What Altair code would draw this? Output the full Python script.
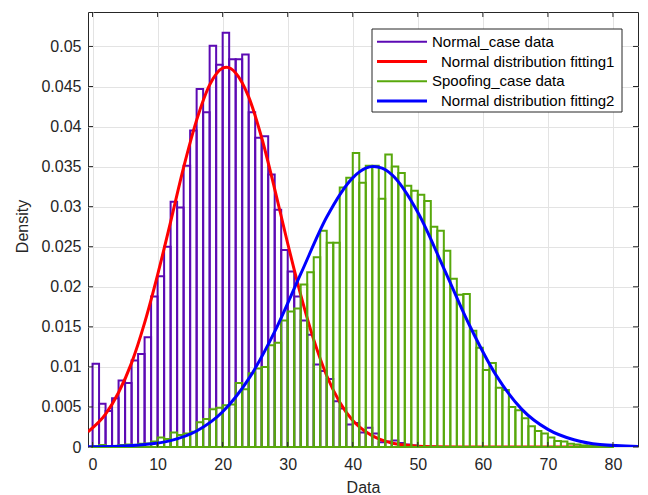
import altair as alt
import pandas as pd

# ---------------- data ----------------
bin_width = 1.0

# Normal_case histogram (pdf), bins [k, k+1)
normal_density = [
    0.0104, 0.0054, 0.0045, 0.0061, 0.0083, 0.0080, 0.0108, 0.0116, 0.0137, 0.0188,
    0.0213, 0.0250, 0.0306, 0.0299, 0.0351, 0.0395, 0.0447, 0.0418, 0.0501, 0.0477,
    0.0517, 0.0484, 0.0484, 0.0490, 0.0418, 0.0386, 0.0388, 0.0340, 0.0296, 0.0246,
    0.0219, 0.0188, 0.0158, 0.0140, 0.0103, 0.0095, 0.0085, 0.0057, 0.0048, 0.0028,
    0.0030, 0.0018, 0.0024, 0.0017, 0.0006, 0.0007, 0.0008, 0.0005, 0.0003, 0.0002,
    0.0001, 0.00005, 0.00005,
]

# Spoofing_case histogram (pdf), bins [k, k+1)
spoof_density = [
    0.0001, 0.00025, 0.0001, 0.0001, 0.00025, 0.0003, 0.0002, 0.0004, 0.00045, 0.0007,
    0.0012, 0.0010, 0.0018, 0.0015, 0.0017, 0.0019, 0.0031, 0.0035, 0.0047, 0.0049,
    0.0052, 0.0053, 0.0080, 0.0072, 0.0092, 0.0098, 0.0100, 0.0127, 0.0130, 0.0158,
    0.0169, 0.0173, 0.0203, 0.0218, 0.0237, 0.0270, 0.0255, 0.0255, 0.0324, 0.0336,
    0.0367, 0.0330, 0.0351, 0.0351, 0.0310, 0.0365, 0.0350, 0.0342, 0.0326, 0.0320,
    0.0315, 0.0307, 0.0275, 0.0270, 0.0245, 0.0210, 0.0190, 0.0191, 0.0145, 0.0124,
    0.0096, 0.0105, 0.0074, 0.0071, 0.0050, 0.0046, 0.0036, 0.0026, 0.0020, 0.0017,
    0.0012, 0.00075, 0.0007, 0.0004, 0.0003, 0.0002, 0.00015, 0.0001, 0.0001, 0.00005,
]

# Normal distribution fitting1
fit1_x = [-0.7, 2, 4, 6, 8, 10, 12, 14, 16, 18, 20, 20.6, 22, 24, 26, 28, 30, 32, 34,
          36, 38, 40, 42, 44, 46, 48, 52, 60, 83.85]
fit1_y = [0.0019, 0.0041, 0.0068, 0.0105, 0.0155, 0.0215, 0.0281, 0.0349, 0.0408,
          0.0452, 0.0473, 0.0474, 0.0467, 0.0437, 0.0386, 0.0322, 0.0254, 0.0190,
          0.0134, 0.0089, 0.0056, 0.0033, 0.0019, 0.0010, 0.0005, 0.00024, 0.00002,
          0.0, 0.0]

# Normal distribution fitting2
fit2_x = [-0.7, 4, 8, 12, 16, 20, 24, 28, 32, 36, 40, 42, 43.2, 44.5, 46, 50, 54, 58,
          62, 66, 70, 74, 78, 83.85]
fit2_y = [0.00002, 0.0001, 0.0003, 0.0008, 0.0020, 0.0044, 0.0085, 0.0144, 0.0216,
          0.0287, 0.0336, 0.0348, 0.0350, 0.0348, 0.0340, 0.0293, 0.0223, 0.0151,
          0.0090, 0.0047, 0.0022, 0.0009, 0.0003, 0.00006]

x_ticks = [0, 10, 20, 30, 40, 50, 60, 70, 80]
y_ticks = [0, 0.005, 0.01, 0.015, 0.02, 0.025, 0.03, 0.035, 0.04, 0.045, 0.05]

legend_labels = [
    "Normal_case data",
    "Normal distribution fitting1",
    "Spoofing_case data",
    "Normal distribution fitting2",
]

# ---------------- styling ----------------
PURPLE = "#5c0ab4"
GREEN = "#58a80c"
RED = "#ff0000"
BLUE = "#0000ff"
AX = "#262626"
FONT = "Liberation Sans"
W, H = 550, 435

normal_df = pd.DataFrame({
    "lo": [i * bin_width for i in range(len(normal_density))],
    "hi": [(i + 1) * bin_width for i in range(len(normal_density))],
    "density": normal_density,
    "base": 0.0,
})
spoof_df = pd.DataFrame({
    "lo": [i * bin_width for i in range(len(spoof_density))],
    "hi": [(i + 1) * bin_width for i in range(len(spoof_density))],
    "density": spoof_density,
    "base": 0.0,
})
fit1_df = pd.DataFrame({"lo": fit1_x, "density": fit1_y})
fit2_df = pd.DataFrame({"lo": fit2_x, "density": fit2_y})
xt_df = pd.DataFrame({"lo": x_ticks})
yt_df = pd.DataFrame({"density": y_ticks})

xs = alt.Scale(domain=[-0.7, 83.85], nice=False, zero=False)
ys = alt.Scale(domain=[0, 0.0543], nice=False, zero=False)

x_axis = alt.Axis(
    values=x_ticks, format="d", grid=True, gridColor="#e3e3e3", gridWidth=1,
    ticks=False, domain=False, labelPadding=9, labelFontSize=16, labelFont=FONT,
    labelColor=AX, title="Data", titleFontSize=16, titleFont=FONT,
    titleFontWeight="normal", titleColor=AX, titleBaseline="middle", titleY=40,
)
y_axis = alt.Axis(
    values=y_ticks, format="~g", grid=True, gridColor="#e3e3e3", gridWidth=1,
    ticks=False, domain=False, labelPadding=7, labelFontSize=16, labelFont=FONT,
    labelColor=AX, title="Density", titleFontSize=16, titleFont=FONT,
    titleFontWeight="normal", titleColor=AX, titleAngle=-90,
    titleBaseline="middle", titleX=-66, titleY=214,
)

X = alt.X("lo:Q", scale=xs, axis=x_axis, title="Data")
Y = alt.Y("density:Q", scale=ys, axis=y_axis, title="Density")

normal_bars = alt.Chart(normal_df).mark_rect(
    fill="white", fillOpacity=0, stroke=PURPLE, strokeWidth=2
).encode(x=X, x2="hi:Q", y=Y, y2="base:Q")

fit1_line = alt.Chart(fit1_df).mark_line(
    color=RED, strokeWidth=3, interpolate="monotone", clip=True
).encode(x=X, y=Y)

spoof_bars = alt.Chart(spoof_df).mark_rect(
    fill="white", fillOpacity=0, stroke=GREEN, strokeWidth=2
).encode(x=X, x2="hi:Q", y=Y, y2="base:Q")

fit2_line = alt.Chart(fit2_df).mark_line(
    color=BLUE, strokeWidth=3, interpolate="monotone", clip=True
).encode(x=X, y=Y)

# inward ticks on all four sides (MATLAB box style)
xt_bottom = alt.Chart(xt_df).mark_rule(color=AX, strokeWidth=1).encode(
    x=X, y=alt.value(H), y2=alt.value(H - 5))
xt_top = alt.Chart(xt_df).mark_rule(color=AX, strokeWidth=1).encode(
    x=X, y=alt.value(0), y2=alt.value(5))
yt_left = alt.Chart(yt_df).mark_rule(color=AX, strokeWidth=1).encode(
    y=Y, x=alt.value(0), x2=alt.value(5))
yt_right = alt.Chart(yt_df).mark_rule(color=AX, strokeWidth=1).encode(
    y=Y, x=alt.value(W - 5), x2=alt.value(W))

# legend (drawn inside the plot, top-right)
LX0, LX1, LY0, LY1 = 284, 534, 17, 100
legend_box = alt.Chart(pd.DataFrame({"k": [0]})).mark_rect(
    fill="white", stroke=AX, strokeWidth=1
).encode(x=alt.value(LX0), x2=alt.value(LX1), y=alt.value(LY0), y2=alt.value(LY1))

legend_colors = [PURPLE, RED, GREEN, BLUE]
legend_widths = [2, 3, 2, 3]
legend_text_x = [344, 353, 344, 353]
row_y = [29.7, 49.5, 69.3, 89.1]
legend_layers = [legend_box]
for lab, col, lw, tx, ry in zip(legend_labels, legend_colors, legend_widths,
                                legend_text_x, row_y):
    d = pd.DataFrame({"label": [lab]})
    legend_layers.append(
        alt.Chart(d).mark_rule(color=col, strokeWidth=lw).encode(
            x=alt.value(289), x2=alt.value(339), y=alt.value(ry))
    )
    legend_layers.append(
        alt.Chart(d).mark_text(
            align="left", baseline="middle", fontSize=15, font=FONT, color="#000000"
        ).encode(x=alt.value(tx), y=alt.value(ry), text="label:N")
    )

chart = alt.layer(
    normal_bars, fit1_line, spoof_bars, fit2_line,
    xt_bottom, xt_top, yt_left, yt_right,
    *legend_layers,
).properties(
    width=W, height=H,
    autosize=alt.AutoSizeParams(type="none"),
    padding={"left": 88, "top": 12, "right": 10, "bottom": 48},
).configure(
    font=FONT,
).configure_view(
    stroke=AX, strokeWidth=1,
)

chart.save("out.html", embed_options={"renderer": "svg", "actions": False})
